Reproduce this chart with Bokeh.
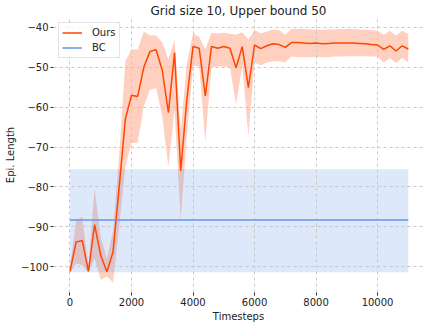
from bokeh.plotting import figure
from bokeh.models import Range1d, FixedTicker
from bokeh.embed import file_html
from bokeh.resources import INLINE

timesteps = [0, 200, 400, 600, 800, 1000, 1200, 1400, 1600, 1800,
             2000, 2200, 2400, 2600, 2800, 3000, 3200, 3400, 3600, 3800,
             4000, 4200, 4400, 4600, 4800, 5000, 5200, 5400, 5600, 5800,
             6000, 6200, 6400, 6600, 6800, 7000, 7200, 7400, 7600, 7800,
             8000, 8200, 8400, 8600, 8800, 9000, 9200, 9400, 9600, 9800,
             10000, 10200, 10400, 10600, 10800, 11000]

ours_mean = [-101.2, -93.8, -93.5, -101.2, -89.5, -97.2, -101.3, -96.3, -80.0, -63.0,
             -57.0, -57.3, -50.0, -46.0, -45.6, -50.8, -61.4, -46.3, -76.0, -58.0,
             -44.8, -45.2, -57.2, -44.8, -45.2, -44.8, -45.2, -50.1, -44.8, -55.1,
             -44.4, -45.3, -44.6, -44.1, -44.3, -45.0, -43.8, -43.8, -43.9, -44.0,
             -43.9, -44.1, -44.0, -43.9, -43.9, -43.9, -43.9, -44.0, -44.1, -44.3,
             -44.4, -45.5, -44.6, -45.9, -44.6, -45.4]

ours_low = [-101.6, -99.3, -99.6, -101.6, -98.0, -103.3, -102.5, -104.0, -90.0, -75.0,
            -69.0, -69.0, -59.8, -55.6, -55.2, -62.3, -75.0, -60.5, -88.5, -67.0,
            -49.7, -49.8, -68.6, -50.0, -49.8, -49.8, -50.0, -59.4, -49.5, -67.2,
            -48.8, -49.5, -48.8, -48.5, -48.5, -48.8, -47.3, -47.4, -47.5, -47.5,
            -47.4, -47.5, -47.4, -47.3, -47.3, -47.2, -47.2, -47.2, -47.2, -47.3,
            -47.3, -48.8, -47.7, -49.0, -47.6, -48.8]

ours_high = [-100.2, -88.4, -87.5, -100.0, -80.4, -92.5, -98.0, -91.0, -72.0, -48.5,
             -45.5, -45.5, -41.0, -42.0, -42.0, -43.8, -48.0, -43.0, -66.0, -49.0,
             -41.5, -42.3, -45.5, -41.3, -41.5, -41.3, -41.6, -41.8, -41.2, -43.0,
             -40.6, -41.5, -41.0, -40.5, -40.7, -41.8, -40.4, -40.4, -40.4, -40.5,
             -40.5, -40.6, -40.5, -40.5, -40.4, -40.4, -40.4, -40.5, -40.6, -40.7,
             -40.8, -41.9, -40.8, -42.0, -40.8, -41.6]

bc_mean = -88.3
bc_low = -101.4
bc_high = -75.6

x_ticks = [0, 2000, 4000, 6000, 8000, 10000]
y_ticks = [-100, -90, -80, -70, -60, -50, -40]
y_tick_labels = ["\u2212100", "\u221290", "\u221280", "\u221270", "\u221260", "\u221250", "\u221240"]

FONT = "DejaVu Sans"

p = figure(width=423, height=324, output_backend="svg", toolbar_location=None,
           x_range=Range1d(-536, 11494), y_range=Range1d(-106.5, -37.5),
           min_border_left=53, min_border_right=0, min_border_top=17, min_border_bottom=32,
           title="Grid size 10, Upper bound 50")
p.outline_line_color = None
p.background_fill_color = "white"

p.title.align = "center"
p.title.text_font = FONT
p.title.text_font_size = "12px"
p.title.text_font_style = "normal"
p.title.text_color = "#222222"
p.title.standoff = 0
p.title.offset = 0

# bands (under the grid)
p.varea(x=timesteps, y1=ours_low, y2=ours_high, fill_color="orangered", fill_alpha=0.25, level="image")
bc_x = [timesteps[0], timesteps[-1]]
p.varea(x=bc_x, y1=[bc_low, bc_low], y2=[bc_high, bc_high], fill_color="cornflowerblue", fill_alpha=0.22, level="image")

# lines
p.line(timesteps, ours_mean, line_color="orangered", line_width=1.5, legend_label="Ours")
p.line(bc_x, [bc_mean, bc_mean], line_color="cornflowerblue", line_width=1.5, legend_label="BC")

# grid
for g in (p.xgrid, p.ygrid):
    g.grid_line_color = "#c8c8c8"
    g.grid_line_dash = "3 3"
    g.grid_line_width = 1
p.xgrid.ticker = FixedTicker(ticks=x_ticks)
p.ygrid.ticker = FixedTicker(ticks=y_ticks)

# axes
p.xaxis.ticker = FixedTicker(ticks=x_ticks)
p.yaxis.ticker = FixedTicker(ticks=y_ticks)
p.yaxis.major_label_overrides = {v: s for v, s in zip(y_ticks, y_tick_labels)}
p.xaxis.axis_label = "Timesteps"
p.yaxis.axis_label = "Epi. Length"
for ax in (p.xaxis, p.yaxis):
    ax.axis_line_color = None
    ax.major_tick_line_color = "#333333"
    ax.major_tick_in = 0
    ax.major_tick_out = 3
    ax.minor_tick_line_color = None
    ax.major_label_standoff = 2
    ax.major_label_text_font = FONT
    ax.major_label_text_font_size = "10px"
    ax.major_label_text_color = "#222222"
    ax.axis_label_text_font = FONT
    ax.axis_label_text_font_size = "10px"
    ax.axis_label_text_font_style = "normal"
    ax.axis_label_text_color = "#222222"
    ax.axis_label_standoff = 2

# legend
lg = p.legend[0]
lg.location = "top_left"
lg.margin = 5
lg.padding = 3
lg.spacing = 2
lg.glyph_width = 20
lg.glyph_height = 13
lg.label_height = 13
lg.label_standoff = 10
lg.label_text_font = FONT
lg.label_text_font_size = "10px"
lg.label_text_color = "#222222"
lg.border_line_color = "#cccccc"
lg.background_fill_alpha = 0.8

open("out.html", "w").write(file_html(p, INLINE))
